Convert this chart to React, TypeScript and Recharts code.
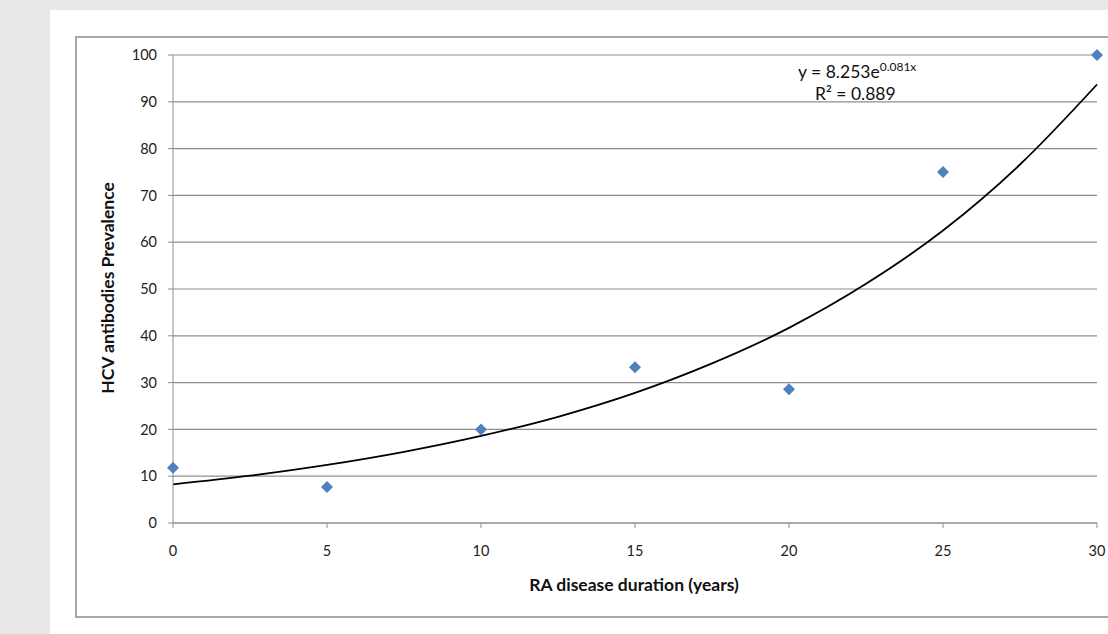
import React from "react";
import {
  ComposedChart, Scatter, Line, XAxis, YAxis, CartesianGrid
} from "recharts";

// observed prevalence by disease duration
const durations = [0, 5, 10, 15, 20, 25, 30];
const prevalence = [11.8, 7.7, 20, 33.3, 28.6, 75, 100];

// exponential trendline, every 2.5 years
const trendX = [0, 2.5, 5, 7.5, 10, 12.5, 15, 17.5, 20, 22.5, 25, 27.5, 30];
const trendY = [8.25, 10.1, 12.4, 15.2, 18.6, 22.7, 27.8, 34.1, 41.7, 51.1, 62.5, 76.6, 93.7];

const xTicks = [0, 5, 10, 15, 20, 25, 30];
const yTicks = [0, 10, 20, 30, 40, 50, 60, 70, 80, 90, 100];

const points = durations.map((x, i) => ({ x, y: prevalence[i] }));
const trend = trendX.map((x, i) => ({ x, t: trendY[i] }));

const FONT = "Lato, 'Open Sans', sans-serif";
const GRID = "#8e8e8e";

const Diamond = (props: any) => {
  const { cx, cy } = props;
  const h = 6;
  return (
    <polygon
      points={`${cx},${cy - h} ${cx + h},${cy} ${cx},${cy + h} ${cx - h},${cy}`}
      fill="#4f81bd"
    />
  );
};

export default function App() {
  return (
    <div style={{ position: "absolute", left: 0, top: 0, width: 1108, height: 634, background: "#e8e8e8", overflow: "hidden", fontFamily: FONT }}>
      <div style={{ position: "absolute", left: 50, top: 10, width: 1070, height: 640, background: "#fff" }} />
      <div style={{ position: "absolute", left: 75, top: 36, width: 1060, height: 578, border: "2px solid #a8a8a8" }} />

      <div style={{ position: "absolute", left: 76, top: 37 }}>
        <ComposedChart width={1032} height={597} margin={{ top: 18, right: 11, left: 0, bottom: 0 }}>
          <CartesianGrid vertical={false} stroke={GRID} strokeWidth={1.2} />
          <XAxis
            type="number"
            dataKey="x"
            domain={[0, 30]}
            ticks={xTicks}
            height={111}
            stroke={GRID}
            tickSize={5}
            tickMargin={18}
            tick={{ fill: "#222", fontSize: 14.5, fontFamily: FONT }}
          />
          <YAxis
            type="number"
            domain={[0, 100]}
            ticks={yTicks}
            width={97}
            stroke={GRID}
            tickSize={5}
            tickMargin={11}
            tick={{ fill: "#222", fontSize: 14.5, fontFamily: FONT }}
          />
          <Line
            data={trend}
            dataKey="t"
            type="monotone"
            stroke="#000"
            strokeWidth={1.8}
            dot={false}
            isAnimationActive={false}
          />
          <Scatter data={points} dataKey="y" shape={Diamond} isAnimationActive={false} />
        </ComposedChart>
      </div>

      <div style={{ position: "absolute", left: 434, top: 573, width: 400, textAlign: "center", fontSize: 17.5, fontWeight: 700, color: "#111", lineHeight: "24px" }}>
        RA disease duration (years)
      </div>
      <div style={{ position: "absolute", left: 108, top: 288, width: 0, height: 0 }}>
        <div style={{ position: "absolute", left: -150, top: -12, width: 300, textAlign: "center", transform: "rotate(-90deg)", fontSize: 17.5, fontWeight: 700, color: "#111", lineHeight: "24px" }}>
          HCV antibodies Prevalence
        </div>
      </div>

      <div style={{ position: "absolute", left: 798, top: 61, height: 22, fontSize: 17.5, color: "#111", lineHeight: "22px", whiteSpace: "nowrap" }}>
        y = 8.253e<span style={{ fontSize: 12, position: "relative", top: -7 }}>0.081x</span>
      </div>
      <div style={{ position: "absolute", left: 815, top: 83, height: 22, fontSize: 17.5, color: "#111", lineHeight: "22px", whiteSpace: "nowrap" }}>
        R² = 0.889
      </div>
    </div>
  );
}
